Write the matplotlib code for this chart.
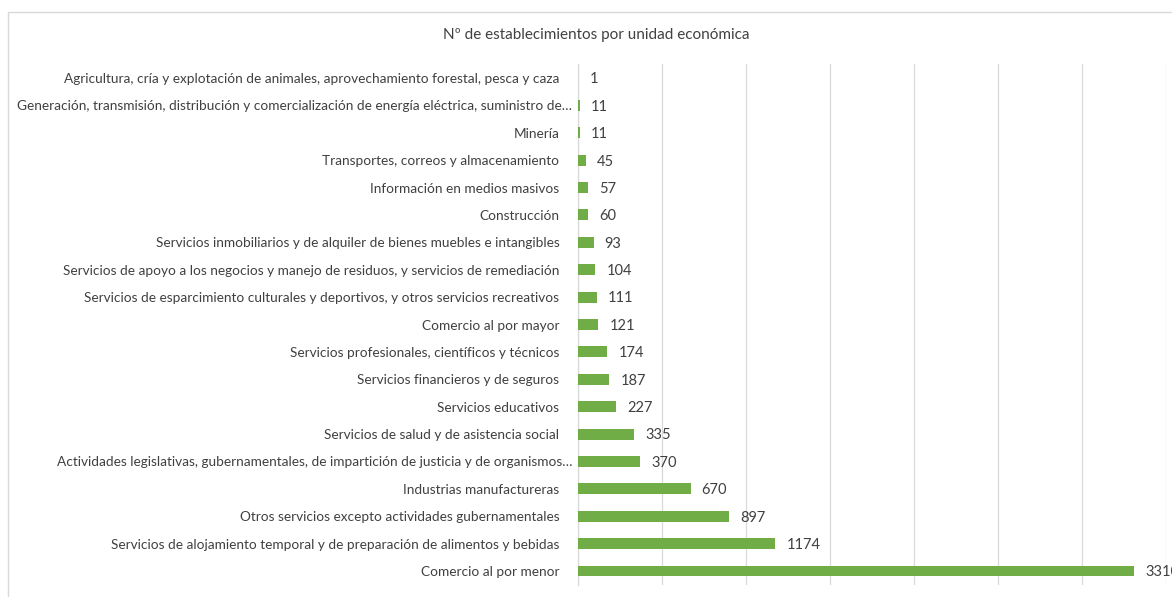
import matplotlib
matplotlib.use("Agg")
import matplotlib.pyplot as plt
from matplotlib.patches import Rectangle
from matplotlib.transforms import ScaledTranslation

categories = [
    "Agricultura, cría y explotación de animales, aprovechamiento forestal, pesca y caza",
    "Generación, transmisión, distribución y comercialización de energía eléctrica, suministro de…",
    "Minería",
    "Transportes, correos y almacenamiento",
    "Información en medios masivos",
    "Construcción",
    "Servicios inmobiliarios y de alquiler de bienes muebles e intangibles",
    "Servicios de apoyo a los negocios y manejo de residuos, y servicios de remediación",
    "Servicios de esparcimiento culturales y deportivos, y otros servicios recreativos",
    "Comercio al por mayor",
    "Servicios profesionales, científicos y técnicos",
    "Servicios financieros y de seguros",
    "Servicios educativos",
    "Servicios de salud y de asistencia social",
    "Actividades legislativas, gubernamentales, de impartición de justicia y de organismos…",
    "Industrias manufactureras",
    "Otros servicios excepto actividades gubernamentales",
    "Servicios de alojamiento temporal y de preparación de alimentos y bebidas",
    "Comercio al por menor",
]
values = [1, 11, 11, 45, 57, 60, 93, 104, 111, 121, 174, 187, 227, 335, 370, 670, 897, 1174, 3310]
title = "Nº de establecimientos por unidad económica"
xticks = [0, 500, 1000, 1500, 2000, 2500, 3000, 3500]

W, H = 1172, 597
plt.rcParams['font.family'] = ['Lato', 'DejaVu Sans']
fig = plt.figure(figsize=(W / 100, H / 100), dpi=100)

# chart frame
fig.patches.append(Rectangle((8 / W, -0.05), 1.2, 1 - 12 / H + 0.05,
                             transform=fig.transFigure, fill=False,
                             edgecolor="#d9d9d9", linewidth=1.0))

ax = fig.add_axes([578 / W, 1 - 584.7 / H, (1166 - 578) / W, (584.7 - 64.3) / H])
text_color = "#404040"
green = "#70AD47"

y = list(range(len(categories)))
ax.barh(y, values, height=0.4, color=green, zorder=3)
ax.set_ylim(len(categories) - 0.5, -0.5)
ax.set_xlim(0, 3500)
ax.set_yticks(y)
ax.set_yticklabels(categories, fontsize=9.8, color=text_color)
ax.set_xticks(xticks)
ax.xaxis.grid(True, color="#d9d9d9", linewidth=0.9, zorder=0)
ax.tick_params(axis="x", bottom=False, labelbottom=False)
ax.tick_params(axis="y", left=False, pad=10)
for s in ["top", "right", "bottom"]:
    ax.spines[s].set_visible(False)
ax.spines["left"].set_color("#d9d9d9")
ax.spines["left"].set_linewidth(0.9)

# truncated labels sit a little closer to the axis (as in the original)
for lab in ax.get_yticklabels():
    if lab.get_text().endswith("…"):
        lab.set_transform(lab.get_transform() +
                          ScaledTranslation(13 / 100, 0, fig.dpi_scale_trans))

for yi, v in zip(y, values):
    ax.annotate(str(v), (v, yi), xytext=(8, -1), textcoords="offset points",
                va="center", ha="left", fontsize=10.5, color=text_color,
                annotation_clip=False)

fig.text(596 / W, 1 - 35 / H, title, ha="center", va="center",
         fontsize=11, color="#404040")

fig.savefig("out.png", dpi=100)
